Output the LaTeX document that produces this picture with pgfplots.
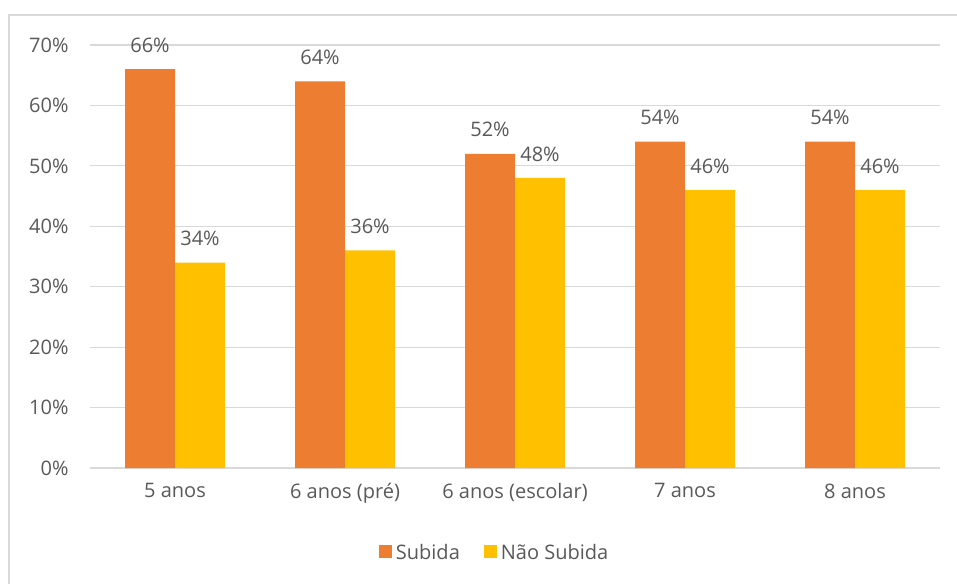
\documentclass[border=0pt]{standalone}
\usepackage{fontspec}
\setmainfont{Open Sans}
\usepackage{pgfplots}
\pgfplotsset{compat=1.18}
\definecolor{txt}{HTML}{595959}
\definecolor{grid}{HTML}{D9D9D9}
\definecolor{orangeS}{HTML}{ED7D31}
\definecolor{yellowN}{HTML}{FFC000}
\begin{document}
\begin{tikzpicture}[x=1pt,y=1pt]
\path[use as bounding box] (0,0) rectangle (957,584);
\draw[grid, line width=1.2pt] (9,0) -- (9,569) -- (957,569);
\begin{axis}[
  at={(90pt,116pt)}, anchor=south west,
  scale only axis, width=850pt, height=423pt,
  ybar=0pt, bar width=50pt,
  xmin=-0.5, xmax=4.5, ymin=0, ymax=70,
  xtick={0,1,2,3,4},
  xticklabels={5 anos, 6 anos (pré), 6 anos (escolar), 7 anos, 8 anos},
  ytick={0,10,...,70},
  yticklabel={\pgfmathprintnumber{\tick}\%},
  /pgf/number format/assume math mode=true,
  ymajorgrids=true, xmajorgrids=false,
  grid style={draw=grid, line width=1.2pt},
  axis x line*=bottom, axis y line*=left,
  x axis line style={draw=grid, line width=1.5pt, -},
  y axis line style={draw=none},
  major tick length=0pt,
  tick style={draw=none},
  tick label style={font=\fontsize{20}{23}\selectfont, text=txt},
  yticklabel style={xshift=-18pt},
  xticklabel style={yshift=-12pt},
  nodes near coords={\pgfmathprintnumber{\pgfplotspointmeta}\%},
  nodes near coords style={font=\fontsize{20}{23}\selectfont, text=txt, anchor=center, yshift=24pt},
  legend style={at={(0.476,-0.199)}, anchor=center, draw=none, font=\fontsize{20}{23}\selectfont, text=txt, legend columns=2, /tikz/every even column/.append style={column sep=22pt}, /tikz/every odd column/.append style={column sep=2pt}},
  legend image code/.code={\fill[#1] (0pt,-6pt) rectangle (13pt,7pt);},
]
\addplot[fill=orangeS, draw=none] coordinates {(0,66) (1,64) (2,52) (3,54) (4,54)};
\addplot[fill=yellowN, draw=none] coordinates {(0,34) (1,36) (2,48) (3,46) (4,46)};
\legend{Subida, Não Subida}
\end{axis}
\end{tikzpicture}
\end{document}
